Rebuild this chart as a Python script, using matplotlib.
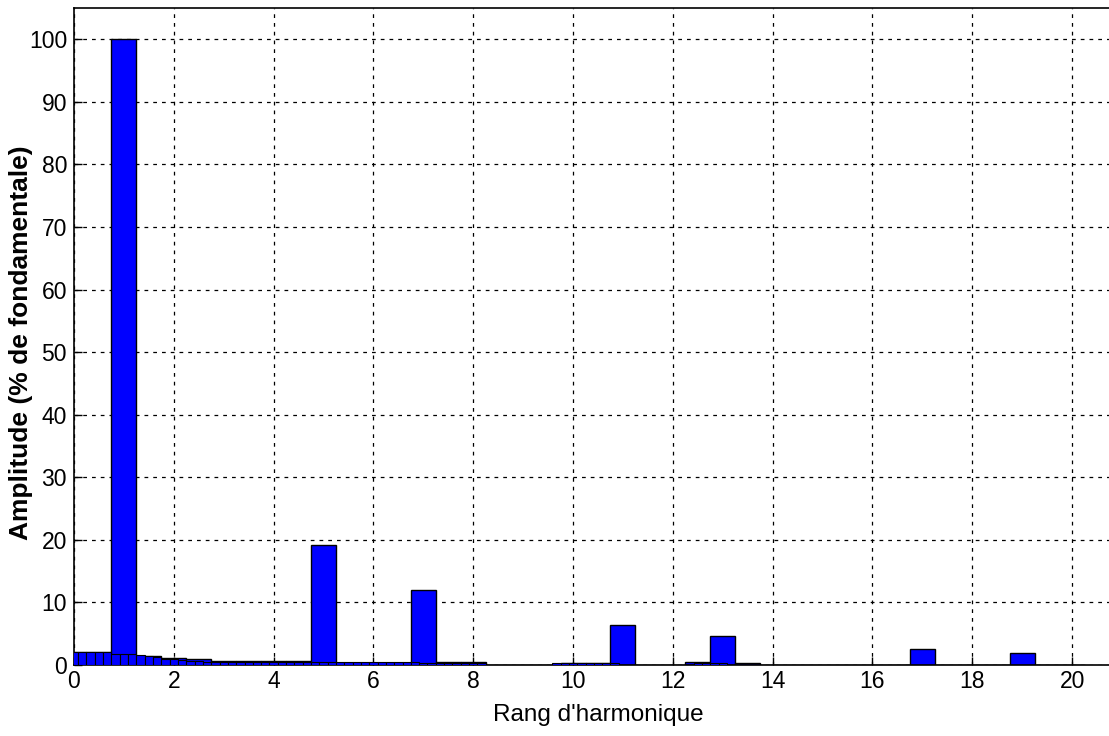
import numpy as np
import matplotlib
matplotlib.use("Agg")
from matplotlib import pyplot as plt

plt.rcParams['font.family'] = ['Liberation Sans', 'DejaVu Sans']

# coarse spectrum, step 0.5 harmonic
coarse_pos = np.arange(0, 20.5, 0.5)
coarse_amp = [2.0, 2.0, 100, 1.5, 1.1, 0.9, 0.6, 0.6, 0.6, 0.6,
              19.1, 0.3, 0.3, 0.3, 12.0, 0.4, 0.4, 0.05, 0.05, 0.05,
              0.3, 0.3, 6.4, 0.05, 0.05, 0.4, 4.7, 0.3, 0.05, 0.05,
              0.05, 0.05, 0.05, 0.05, 2.5, 0.05, 0.05, 0.05, 1.9, 0.05,
              0.05]

# fine spectrum, step 1/6 harmonic
fine_pos = np.arange(0, 121) / 6
fine_amp = ([2.1, 2.1, 2.1, 2.1, 2.0, 1.8, 1.7, 1.7, 1.6, 1.4, 1.2, 1.0,
             0.9, 0.8, 0.7, 0.6] + [0.55] * 14 +
            [0.4] * 12 + [0.35] * 8 +
            [0.0] * 8 + [0.35] * 8 +
            [0.0] * 9 + [0.35] * 4 +
            [0.0] * 42)

fig = plt.figure(figsize=(11.09, 7.36), dpi=100)
ax = fig.add_axes([74/1109, 71/736, 1048/1109, 657/736])

ax.bar(coarse_pos, coarse_amp, width=0.5, color='#0000ff',
       edgecolor='black', linewidth=1.0, zorder=2)
ax.bar(fine_pos, fine_amp, width=1/6, color='#0000ff',
       edgecolor='black', linewidth=0.8, zorder=3)

ax.set_xlim(0, 21)
ax.set_ylim(0, 105)
ax.set_xticks(np.arange(0, 21, 2))
ax.set_yticks(np.arange(0, 101, 10))
ax.tick_params(direction='in', length=6, labelsize=16.5, width=1)
ax.tick_params(axis='y', pad=5)
ax.grid(True, color='black', linestyle=(0, (3, 4)), linewidth=0.9)
ax.set_axisbelow(True)
for s in ax.spines.values():
    s.set_linewidth(1.2)

ax.set_xlabel("Rang d'harmonique", fontsize=17.5, labelpad=8)
ax.set_ylabel("Amplitude (% de fondamentale)", fontsize=19,
              fontweight='bold')
ax.yaxis.set_label_coords(-0.039, 0.49)

fig.savefig('out.png', dpi=100)
